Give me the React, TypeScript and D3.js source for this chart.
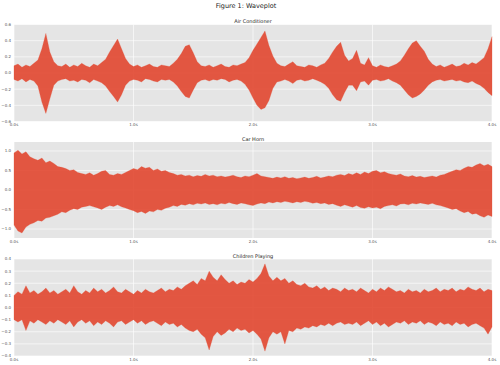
import React from "react";
import * as d3 from "d3";

const W = 500;
const H = 365;

const mainTitle = "Figure 1: Waveplot";
const titles = ["Air Conditioner", "Car Horn", "Children Playing"];
const xTickValues = [0, 1, 2, 3, 4];
const xTickLabels = ["0.0s", "1.0s", "2.0s", "3.0s", "4.0s"];
const yTicks1 = [0.6, 0.4, 0.2, 0.0, -0.2, -0.4, -0.6];
const yTicks2 = [1.0, 0.5, 0.0, -0.5, -1.0];
const yTicks3 = [0.4, 0.3, 0.2, 0.1, 0.0, -0.1, -0.2, -0.3, -0.4];
const yDomains = [0.6, 1.23, 0.4];
const duration = 4;

const acUpper = [0.09,0.11,0.07,0.10,0.08,0.12,0.16,0.30,0.49,0.26,0.14,0.09,0.08,0.11,0.07,0.10,0.08,0.12,0.09,0.07,0.11,0.09,0.13,0.17,0.26,0.34,0.42,0.30,0.18,0.11,0.08,0.10,0.07,0.09,0.11,0.08,0.07,0.10,0.09,0.08,0.12,0.17,0.24,0.33,0.35,0.25,0.14,0.09,0.08,0.10,0.07,0.09,0.11,0.08,0.07,0.10,0.09,0.11,0.13,0.19,0.28,0.36,0.44,0.52,0.34,0.21,0.12,0.09,0.08,0.11,0.14,0.09,0.08,0.07,0.10,0.09,0.07,0.10,0.12,0.18,0.26,0.33,0.38,0.22,0.15,0.18,0.28,0.12,0.10,0.19,0.09,0.07,0.10,0.08,0.07,0.09,0.11,0.15,0.22,0.30,0.37,0.40,0.33,0.27,0.17,0.11,0.08,0.10,0.07,0.09,0.11,0.08,0.09,0.12,0.10,0.13,0.11,0.15,0.19,0.30,0.45];
const acLower = [-0.08,-0.10,-0.07,-0.11,-0.08,-0.10,-0.16,-0.36,-0.50,-0.32,-0.15,-0.10,-0.08,-0.07,-0.10,-0.09,-0.11,-0.08,-0.09,-0.12,-0.08,-0.10,-0.12,-0.16,-0.23,-0.29,-0.36,-0.27,-0.15,-0.10,-0.08,-0.09,-0.11,-0.07,-0.08,-0.10,-0.11,-0.08,-0.09,-0.08,-0.11,-0.16,-0.23,-0.29,-0.31,-0.21,-0.12,-0.09,-0.08,-0.10,-0.08,-0.09,-0.07,-0.08,-0.11,-0.09,-0.08,-0.10,-0.14,-0.21,-0.31,-0.40,-0.45,-0.43,-0.34,-0.19,-0.11,-0.10,-0.08,-0.10,-0.13,-0.09,-0.08,-0.10,-0.09,-0.07,-0.09,-0.11,-0.14,-0.19,-0.27,-0.33,-0.35,-0.24,-0.15,-0.15,-0.22,-0.11,-0.10,-0.15,-0.09,-0.08,-0.10,-0.09,-0.07,-0.10,-0.12,-0.15,-0.21,-0.27,-0.31,-0.29,-0.26,-0.21,-0.15,-0.11,-0.09,-0.08,-0.10,-0.09,-0.08,-0.10,-0.09,-0.11,-0.12,-0.10,-0.13,-0.15,-0.19,-0.24,-0.28];

const chUpper = [0.95,1.02,0.92,0.98,0.85,0.80,0.76,0.82,0.70,0.74,0.68,0.60,0.58,0.55,0.50,0.52,0.45,0.42,0.40,0.44,0.38,0.42,0.48,0.50,0.40,0.38,0.42,0.40,0.45,0.50,0.55,0.52,0.60,0.56,0.58,0.50,0.54,0.48,0.50,0.45,0.42,0.38,0.40,0.36,0.38,0.34,0.37,0.35,0.40,0.36,0.38,0.34,0.36,0.33,0.35,0.38,0.34,0.32,0.36,0.34,0.38,0.42,0.36,0.34,0.32,0.30,0.33,0.31,0.34,0.30,0.32,0.29,0.31,0.33,0.30,0.32,0.35,0.31,0.33,0.36,0.34,0.38,0.40,0.37,0.42,0.39,0.44,0.40,0.46,0.42,0.48,0.50,0.44,0.47,0.42,0.40,0.38,0.41,0.36,0.34,0.37,0.33,0.35,0.32,0.34,0.36,0.33,0.38,0.40,0.44,0.48,0.52,0.50,0.56,0.60,0.58,0.64,0.68,0.62,0.66,0.60];
const chLower = [-0.90,-1.05,-1.10,-0.95,-0.88,-0.84,-0.78,-0.80,-0.72,-0.70,-0.66,-0.62,-0.56,-0.58,-0.52,-0.48,-0.50,-0.44,-0.42,-0.40,-0.43,-0.46,-0.50,-0.44,-0.40,-0.42,-0.38,-0.43,-0.46,-0.50,-0.53,-0.58,-0.55,-0.60,-0.54,-0.56,-0.50,-0.52,-0.47,-0.44,-0.40,-0.42,-0.37,-0.39,-0.35,-0.38,-0.34,-0.36,-0.33,-0.37,-0.35,-0.38,-0.34,-0.36,-0.32,-0.35,-0.37,-0.33,-0.35,-0.38,-0.40,-0.36,-0.33,-0.35,-0.31,-0.33,-0.30,-0.32,-0.29,-0.31,-0.33,-0.30,-0.32,-0.29,-0.31,-0.34,-0.32,-0.35,-0.33,-0.37,-0.35,-0.39,-0.42,-0.38,-0.41,-0.44,-0.40,-0.45,-0.47,-0.43,-0.46,-0.44,-0.48,-0.42,-0.40,-0.38,-0.41,-0.36,-0.35,-0.38,-0.34,-0.36,-0.33,-0.35,-0.37,-0.34,-0.38,-0.40,-0.43,-0.46,-0.50,-0.48,-0.54,-0.58,-0.55,-0.62,-0.60,-0.66,-0.70,-0.64,-0.68];

const cpUpper = [0.10,0.13,0.11,0.18,0.12,0.14,0.11,0.13,0.16,0.12,0.14,0.11,0.13,0.15,0.12,0.18,0.13,0.11,0.14,0.12,0.16,0.13,0.15,0.12,0.14,0.17,0.13,0.12,0.15,0.13,0.11,0.14,0.12,0.15,0.13,0.12,0.14,0.16,0.13,0.15,0.14,0.17,0.15,0.18,0.20,0.22,0.19,0.24,0.22,0.30,0.25,0.22,0.27,0.23,0.20,0.22,0.19,0.21,0.20,0.23,0.21,0.24,0.28,0.36,0.26,0.22,0.25,0.22,0.24,0.20,0.22,0.19,0.18,0.20,0.17,0.16,0.18,0.15,0.17,0.14,0.16,0.15,0.13,0.16,0.14,0.15,0.13,0.16,0.14,0.12,0.15,0.13,0.16,0.14,0.17,0.15,0.13,0.14,0.12,0.15,0.13,0.14,0.12,0.15,0.13,0.14,0.16,0.13,0.15,0.14,0.16,0.13,0.15,0.14,0.17,0.15,0.14,0.16,0.13,0.15,0.14];
const cpLower = [-0.10,-0.12,-0.10,-0.19,-0.11,-0.13,-0.10,-0.12,-0.14,-0.11,-0.13,-0.10,-0.12,-0.14,-0.11,-0.16,-0.12,-0.10,-0.13,-0.11,-0.15,-0.12,-0.14,-0.11,-0.13,-0.16,-0.12,-0.11,-0.14,-0.12,-0.10,-0.13,-0.11,-0.14,-0.12,-0.11,-0.13,-0.15,-0.12,-0.14,-0.13,-0.16,-0.14,-0.17,-0.19,-0.20,-0.18,-0.22,-0.25,-0.35,-0.24,-0.20,-0.23,-0.21,-0.18,-0.20,-0.17,-0.19,-0.18,-0.21,-0.19,-0.22,-0.26,-0.36,-0.25,-0.20,-0.22,-0.20,-0.30,-0.19,-0.20,-0.17,-0.18,-0.16,-0.17,-0.15,-0.16,-0.14,-0.15,-0.13,-0.15,-0.13,-0.12,-0.14,-0.13,-0.14,-0.12,-0.15,-0.13,-0.11,-0.14,-0.12,-0.15,-0.13,-0.16,-0.14,-0.12,-0.13,-0.11,-0.14,-0.12,-0.13,-0.11,-0.14,-0.12,-0.13,-0.15,-0.12,-0.14,-0.13,-0.15,-0.12,-0.14,-0.13,-0.16,-0.14,-0.13,-0.15,-0.17,-0.22,-0.16];

const panels = [
  { title: titles[0], upper: acUpper, lower: acLower, ticks: yTicks1, dom: yDomains[0], top: 24.5, bottom: 121.5, fmt: ".1f" },
  { title: titles[1], upper: chUpper, lower: chLower, ticks: yTicks2, dom: yDomains[1], top: 142, bottom: 238, fmt: ".1f" },
  { title: titles[2], upper: cpUpper, lower: cpLower, ticks: yTicks3, dom: yDomains[2], top: 259, bottom: 356, fmt: ".1f" },
];

const LEFT = 14;
const RIGHT = 492;

function Panel({ p }: { p: any }) {
  const x = d3.scaleLinear().domain([0, duration]).range([LEFT, RIGHT]);
  const y = d3.scaleLinear().domain([-p.dom, p.dom]).range([p.bottom, p.top]);
  const n = p.upper.length;
  const data = p.upper.map((u: number, i: number) => ({ t: (i * duration) / (n - 1), u, l: p.lower[i] }));
  const area = d3
    .area<any>()
    .x((d) => x(d.t))
    .y0((d) => y(d.l))
    .y1((d) => y(d.u));
  const fmt = d3.format(p.fmt);
  return (
    <g>
      <rect x={LEFT} y={p.top} width={RIGHT - LEFT} height={p.bottom - p.top} fill="#E5E5E5" />
      {xTickValues.map((v) => (
        <line key={"gx" + v} x1={x(v)} x2={x(v)} y1={p.top} y2={p.bottom} stroke="#fff" strokeWidth={0.6} />
      ))}
      {p.ticks.map((v: number) => (
        <line key={"gy" + v} x1={LEFT} x2={RIGHT} y1={y(v)} y2={y(v)} stroke="#fff" strokeWidth={0.6} />
      ))}
      <path d={area(data) || ""} fill="#E24A33" fillOpacity={0.92} stroke="#E24A33" strokeWidth={0.5} strokeOpacity={0.5} />
      {p.ticks.map((v: number) => (
        <text key={"ty" + v} x={LEFT - 3} y={y(v)} dy="0.35em" textAnchor="end" fontSize={4} fill="#555">
          {fmt(v) === "-0.0" ? "0.0" : fmt(v)}
        </text>
      ))}
      {xTickValues.map((v, i) => (
        <text key={"tx" + v} x={x(v)} y={p.bottom + 4.5} textAnchor="middle" fontSize={4} fill="#555">
          {xTickLabels[i]}
        </text>
      ))}
      <text x={(LEFT + RIGHT) / 2} y={p.top - 1.5} textAnchor="middle" fontSize={5} fill="#222">
        {p.title}
      </text>
    </g>
  );
}

export default function App() {
  return (
    <svg width={W} height={H} style={{ position: "absolute", left: 0, top: 0, background: "#fff" }} fontFamily="DejaVu Sans, sans-serif">
      <rect x={0} y={0} width={W} height={H} fill="#fff" />
      <text x={246} y={8} textAnchor="middle" fontSize={6.5} fill="#222">
        {mainTitle}
      </text>
      {panels.map((p, i) => (
        <Panel key={i} p={p} />
      ))}
    </svg>
  );
}
